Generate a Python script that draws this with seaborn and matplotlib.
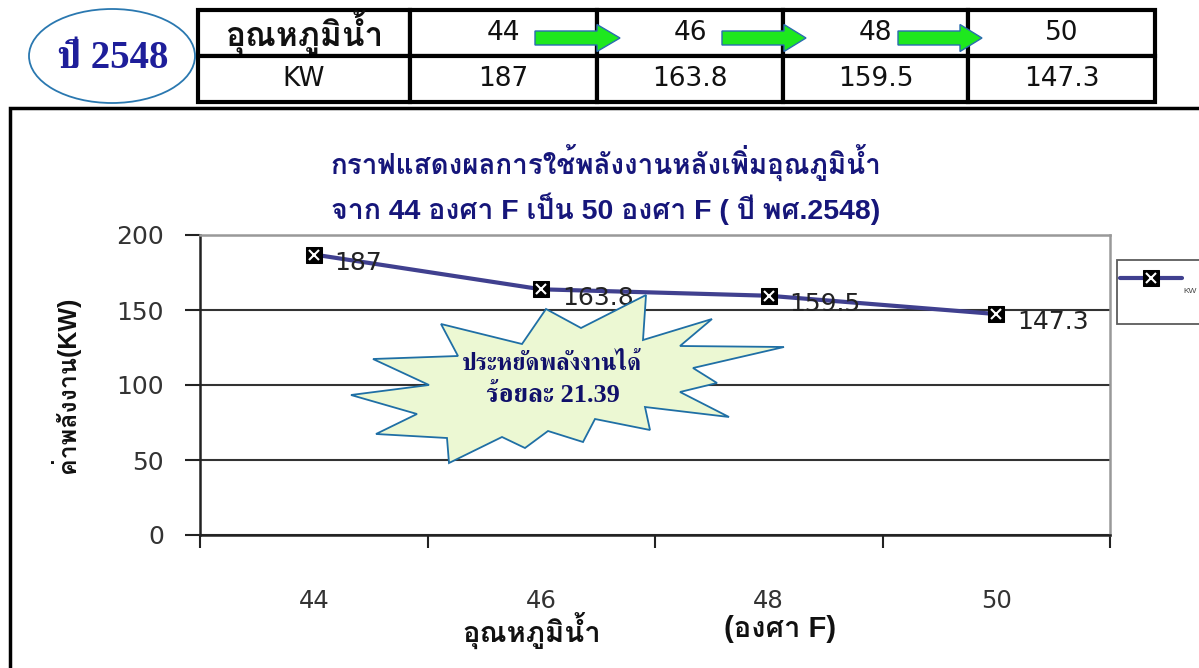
import matplotlib
matplotlib.use("Agg")
import numpy as np
import pandas as pd
import seaborn as sns
import matplotlib.pyplot as plt
from matplotlib import font_manager
from matplotlib.ft2font import FT2Font
from matplotlib.patches import Ellipse, Polygon, Rectangle, FancyArrow

# ---- data -------------------------------------------------------------
temps = ["44", "46", "48", "50"]
kw = [187, 163.8, 159.5, 147.3]
row_labels = ["อุณหภูมิน้ำ", "KW"]
y_ticks = [0, 50, 100, 150, 200]
year_label = "ปี 2548"
title_lines = ["กราฟแสดงผลการใช้พลังงานหลังเพิ่มอุณภูมิน้ำ",
               "จาก 44 องศา F เป็น 50 องศา F ( ปี พศ.2548)"]
callout_lines = ["ประหยัดพลังงานได้", "ร้อยละ 21.39"]
x_title = "อุณหภูมิน้ำ"
x_unit = "(องศา F)"
y_title = "ค่าพลังงาน(KW)"

W, H = 1199, 668


def fx(px):
    return px / W


def fy(py):
    return 1 - py / H


def thai_fonts():
    """Return (sans, serif) family names that contain Thai glyphs."""
    sans, serif = [], []
    seen = set()
    for f in font_manager.fontManager.ttflist:
        if f.name in seen:
            continue
        seen.add(f.name)
        try:
            cmap = FT2Font(f.fname).get_charmap()
        except Exception:
            continue
        if 0x0E01 in cmap and 0x0E32 in cmap:
            (serif if "Serif" in f.name else sans).append(f.name)
    s = sans[0] if sans else "DejaVu Sans"
    r = serif[0] if serif else s
    return s, r


sns.set_style("white")
thai_sans, thai_serif = thai_fonts()
SANS = ["Liberation Sans", thai_sans, "DejaVu Sans"]
WIDE = ["DejaVu Sans", thai_sans]
SERIF = ["Liberation Serif", thai_serif, "DejaVu Sans"]
plt.rcParams["font.family"] = SANS

NAVY = "#16167a"
INK = "#333333"

fig = plt.figure(figsize=(W / 100, H / 100), dpi=100)
fig.patch.set_facecolor("white")

# ---- main plot area ---------------------------------------------------
ax = fig.add_axes([fx(200), fy(535), 910 / W, 300 / H])
df = pd.DataFrame({"temp": temps, "KW": kw})
sns.lineplot(data=df, x="temp", y="KW", ax=ax, sort=False, color="#40408f",
             lw=3, marker="s", markersize=11, markerfacecolor="black",
             markeredgecolor="black", zorder=3)
line = ax.get_lines()[0]
cross, = ax.plot(df["temp"], df["KW"], ls="none", marker="x", color="white",
                 ms=7.5, mew=1.5, zorder=4)

for i, v in enumerate(kw):
    ax.annotate(f"{v:g}", (i, v), xytext=(15, -6), textcoords="offset points",
                ha="left", va="center", fontsize=18, color="#222222",
                family=WIDE, zorder=5)

ax.set_xlim(-0.5, 3.5)
ax.set_ylim(0, 200)
ax.set_xticks(np.arange(-0.5, 4, 1))
ax.set_xticklabels([])
ax.set_xticks(range(len(temps)), minor=True)
ax.set_xticklabels(temps, minor=True, family=WIDE)
ax.tick_params(axis="x", which="major", direction="out", length=9.5, width=1.5,
               color="#222222", bottom=True)
ax.tick_params(axis="x", which="minor", length=0, pad=39, labelsize=17.5,
               labelcolor=INK)
ax.set_yticks(y_ticks)
ax.set_yticklabels([str(t) for t in y_ticks], family=WIDE)
ax.tick_params(axis="y", direction="out", length=11, width=1.5,
               color="#222222", pad=15, labelsize=18, labelcolor=INK, left=True)

ax.yaxis.grid(True, color="#333333", lw=1.5)
ax.set_axisbelow(True)
for side in ("left", "bottom"):
    ax.spines[side].set_color("#222222")
    ax.spines[side].set_linewidth(1.8)
for side in ("top", "right"):
    ax.spines[side].set_color("#999999")
    ax.spines[side].set_linewidth(1.8)

ax.set_xlabel(x_title, fontsize=21, fontweight="bold", color="#111111")
ax.xaxis.set_label_coords((532 - 200) / 910, (535 - 631) / 300)
ax.xaxis.label.set_va("center")
ax.text((780 - 200) / 910, (535 - 629) / 300, x_unit, transform=ax.transAxes,
        ha="center", va="center", fontsize=21, fontweight="bold",
        color="#111111")
ax.set_ylabel(y_title, fontsize=18, fontweight="bold", color="#111111")
ax.yaxis.set_label_coords((80 - 200) / 910, 0.5)

leg = ax.legend(handles=[(line, cross)], labels=["KW"], loc="center left",
                bbox_to_anchor=(fx(1117), fy(292)), bbox_transform=fig.transFigure,
                frameon=True, fancybox=False, fontsize=6, handlelength=7.5,
                handleheight=10.5, borderpad=0.3, handletextpad=0.2,
                borderaxespad=0)
leg.get_frame().set_edgecolor("#333333")
leg.get_frame().set_linewidth(1.3)
leg.get_texts()[0].set_color("#444444")

# ---- titles ------------------------------------------------------------
fig.text(fx(606), fy(163), title_lines[0], ha="center", va="center",
         fontsize=20, fontweight="bold", color=NAVY)
fig.text(fx(606), fy(209), title_lines[1], ha="center", va="center",
         fontsize=20.5, fontweight="bold", color=NAVY)

# ---- outer chart frame -------------------------------------------------
fig.add_artist(Rectangle((fx(10), -0.2), 1.5, fy(108) + 0.2, fill=False,
                         lw=2.5, edgecolor="black", transform=fig.transFigure))

# ---- savings callout ---------------------------------------------------
star_px = [(441, 324), (522, 344), (546, 309), (581, 328), (646, 295),
           (643, 340), (712, 319), (680, 346), (784, 347), (693, 368),
           (717, 383), (680, 392), (729, 417), (645, 407), (650, 430),
           (595, 419), (583, 442), (548, 431), (525, 448), (502, 437),
           (449, 463), (447, 438), (376, 434), (417, 414), (351, 395),
           (429, 385), (373, 359), (458, 356)]
fig.add_artist(Polygon([(fx(x), fy(y)) for x, y in star_px], closed=True,
                       facecolor="#ecf8d3", edgecolor="#1f6fa5", lw=1.3,
                       transform=fig.transFigure, zorder=5))
fig.text(fx(552), fy(364), callout_lines[0], ha="center", va="center",
         fontsize=17, fontweight="bold", color="#10106a", family=SERIF, zorder=6)
fig.text(fx(553), fy(396), callout_lines[1], ha="center", va="center",
         fontsize=19, fontweight="bold", color="#10106a", family=SERIF, zorder=6)

# ---- year badge --------------------------------------------------------
fig.add_artist(Ellipse((fx(112), fy(56)), 166 / W, 94 / H, fill=False,
                       edgecolor="#2a78b0", lw=1.3, transform=fig.transFigure))
fig.text(fx(113), fy(58), year_label, ha="center", va="center", fontsize=28,
         fontweight="bold", color="#1e1e9a", family=SERIF)

# ---- summary table -----------------------------------------------------
tax = fig.add_axes([fx(198), fy(102), 957 / W, 92 / H])
tax.axis("off")
col_px = np.array([212, 187, 186, 185, 187], dtype=float)
cells = [[row_labels[0]] + temps, [row_labels[1]] + [f"{v:g}" for v in kw]]
tbl = tax.table(cellText=cells, cellLoc="center", bbox=[0, 0, 1, 1],
                colWidths=list(col_px / col_px.sum()))
tbl.auto_set_font_size(False)
for (r, c), cell in tbl.get_celld().items():
    cell.set_linewidth(3)
    cell.set_edgecolor("black")
    txt = cell.get_text()
    txt.set_fontsize(19)
    txt.set_family(WIDE)
    txt.set_color("#111111")
    if r == 0 and c == 0:
        txt.set_family(SANS)
        txt.set_fontweight("bold")
        txt.set_fontsize(24)

# arrows stepping between the temperature cells
for x0, x_head, x_tip in [(535, 597, 620), (722, 784, 806), (898, 960, 982)]:
    fig.add_artist(FancyArrow(fx(x0), fy(38), fx(x_tip) - fx(x0), 0,
                              width=14 / H, head_width=27 / H,
                              head_length=(x_tip - x_head) / W,
                              length_includes_head=True, facecolor="#1ee81e",
                              edgecolor="#2a6cb0", lw=1.0,
                              transform=fig.transFigure, zorder=6))

fig.savefig("out.png", dpi=100)
